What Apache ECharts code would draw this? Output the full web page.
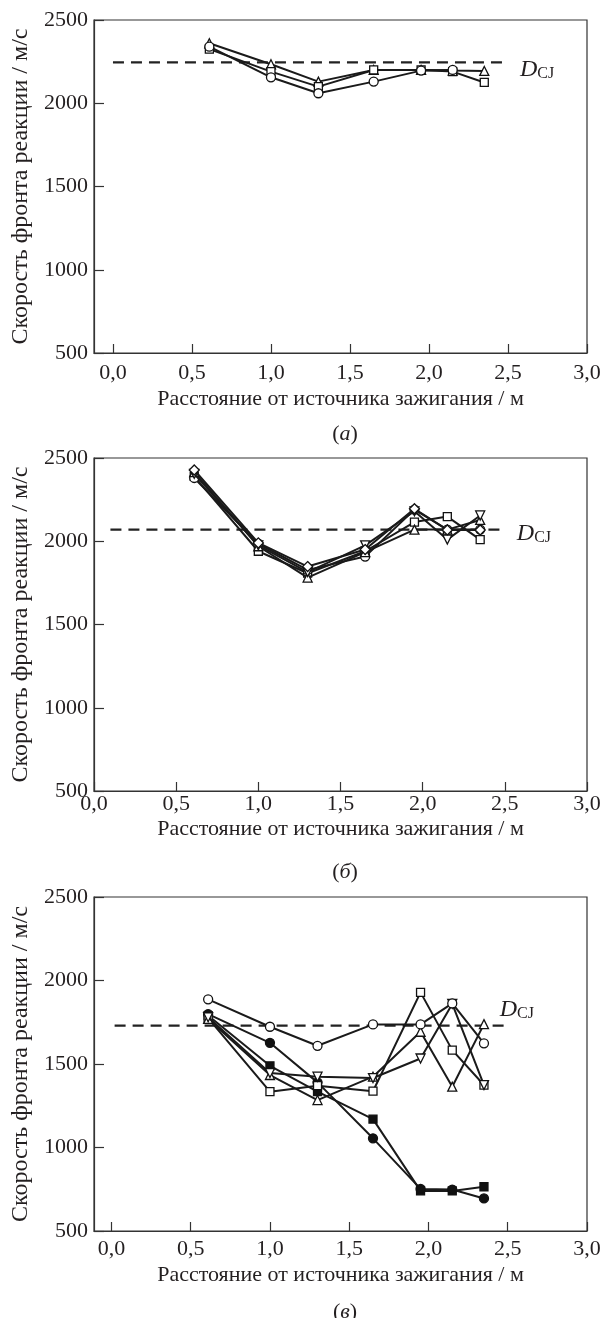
<!DOCTYPE html>
<html>
<head>
<meta charset="utf-8">
<script src="https://cdn.jsdelivr.net/npm/echarts@6/dist/echarts.min.js"></script>
<style>
  html, body { margin: 0; padding: 0; background: #fff; }
  #chart { width: 608px; height: 1318px; }
</style>
</head>
<body>
<div id="chart"></div>
<script>
// Sensor positions along the tube, m
const distance = [0.61, 1.0, 1.3, 1.65, 1.95, 2.15, 2.35];

// Panel (а): reaction front velocity, m/s
const aTriangle = [2360, 2234, 2130, 2200, 2200, 2196, 2194];
const aSquare   = [2325, 2190, 2100, 2200, 2200, 2190, 2125];
const aCircle   = [2340, 2156, 2060, 2130, 2196, 2200, null];
const aDcj = 2245;

// Panel (б)
const bSquare   = [2390, 1940, 1808, 1940, 2115, 2148, 2010];
const bCircle   = [2380, 1985, 1828, 1908, 2190, 2070, 2070];
const bTriangle = [2415, 1970, 1782, 1935, 2070, 2070, 2128];
const bTriDown  = [2405, 1975, 1815, 1975, 2180, 2010, 2155];
const bDiamond  = [2428, 1990, 1848, 1950, 2195, 2068, 2068];
const bDcj = 2070;

// Panel (в)
const cOpenCircle   = [1887, 1723, 1609, 1737, 1737, 1863, 1624];
const cFilledCircle = [1799, 1627, 1390, 1055, 752, 748, 695];
const cFilledSquare = [1790, 1489, 1334, 1170, 740, 740, 765];
const cOpenSquare   = [1775, 1334, 1370, 1337, 1929, 1583, 1374];
const cTriangle     = [1770, 1434, 1284, 1424, 1693, 1364, 1739];
const cTriDown      = [1780, 1446, 1424, 1416, 1533, 1860, 1374];
const cDcj = 1730;

const xTicks = [0, 0.5, 1, 1.5, 2, 2.5, 3];
const yTicks = [500, 1000, 1500, 2000, 2500];
const xTitle = 'Расстояние от источника зажигания / м';
const yTitle = 'Скорость фронта реакции / м/с';
const panelNames = ['а', 'б', 'в'];

const FONT = '"Liberation Serif", "DejaVu Serif", serif';
const INK = '#231f20';
const TRI_DOWN = 'path://M0,0 L10,0 L5,9 Z';

const panels = [
  { top: 20,  height: 333, xMin: -0.12, dcj: aDcj, dcjFrom: 0.0, labelMargin: 9, nameGap: 35, lblOff: [0, 7],
    series: [
      { data: aTriangle, symbol: 'triangle' },
      { data: aSquare, symbol: 'rect' },
      { data: aCircle, symbol: 'circle' }
    ] },
  { top: 458, height: 333, xMin: 0, dcj: bDcj, dcjFrom: 0.1, labelMargin: 2, nameGap: 27, lblOff: [0, 4],
    series: [
      { data: bSquare, symbol: 'rect' },
      { data: bCircle, symbol: 'circle' },
      { data: bTriangle, symbol: 'triangle' },
      { data: bTriDown, symbol: TRI_DOWN },
      { data: bDiamond, symbol: 'diamond' }
    ] },
  { top: 897, height: 334, xMin: -0.11, dcj: cDcj, dcjFrom: 0.02, labelMargin: 7, nameGap: 33, lblOff: [-20, -16],
    series: [
      { data: cFilledSquare, symbol: 'rect', filled: true },
      { data: cFilledCircle, symbol: 'circle', filled: true },
      { data: cOpenSquare, symbol: 'rect' },
      { data: cTriangle, symbol: 'triangle' },
      { data: cTriDown, symbol: TRI_DOWN },
      { data: cOpenCircle, symbol: 'circle' }
    ] }
];

const grid = [], xAxis = [], yAxis = [], series = [], title = [];

panels.forEach((p, i) => {
  grid.push({ left: 94, right: 21, top: p.top, height: p.height, show: true,
              borderColor: '#333', borderWidth: 1.2, backgroundColor: 'transparent' });
  xAxis.push({
    type: 'value', gridIndex: i, min: p.xMin, max: 3.0,
    axisLine: { show: true, onZero: false, lineStyle: { color: '#333', width: 1.2 } },
    axisTick: { show: true, inside: true, length: 9, customValues: xTicks,
                lineStyle: { color: '#333', width: 1.2 } },
    splitLine: { show: false },
    axisLabel: {
      margin: p.labelMargin, fontFamily: FONT, fontSize: 22, color: INK,
      customValues: xTicks,
      formatter: v => v.toFixed(1).replace('.', ',')
    },
    name: xTitle, nameLocation: 'middle', nameGap: p.nameGap,
    nameTextStyle: { fontFamily: FONT, fontSize: 22, color: INK }
  });
  yAxis.push({
    type: 'value', gridIndex: i, min: yTicks[0], max: yTicks[yTicks.length - 1], interval: 500,
    axisLine: { show: true, onZero: false, lineStyle: { color: '#333', width: 1.2 } },
    axisTick: { show: true, inside: true, length: 10, lineStyle: { color: '#333', width: 1.2 } },
    splitLine: { show: false },
    axisLabel: { margin: 6, fontFamily: FONT, fontSize: 22, color: INK, formatter: v => String(v) },
    name: yTitle, nameLocation: 'middle', nameRotate: 90, nameGap: 59,
    nameTextStyle: { fontFamily: FONT, fontSize: 24, color: INK }
  });

  // Chapman–Jouguet detonation velocity
  series.push({
    type: 'line', xAxisIndex: i, yAxisIndex: i, silent: true, animation: false,
    data: [[p.dcjFrom, p.dcj], [2.5, p.dcj]], symbol: 'none',
    lineStyle: { color: '#222', width: 2.2, type: [11, 7] },
    endLabel: {
      show: true, distance: 12, offset: p.lblOff,
      formatter: '{d|D}{s|CJ}',
      rich: {
        d: { fontFamily: FONT, fontStyle: 'italic', fontSize: 24, color: INK },
        s: { fontFamily: FONT, fontSize: 16, color: INK, verticalAlign: 'bottom', padding: [9, 0, 0, 0] }
      }
    },
    z: 1
  });

  p.series.forEach((s, k) => {
    series.push({
      type: 'line', xAxisIndex: i, yAxisIndex: i, animation: false,
      data: distance.map((x, j) => s.data[j] == null ? null : [x, s.data[j]]).filter(d => d),
      symbol: s.symbol, symbolSize: s.symbol === 'rect' ? 8 : (s.symbol === 'diamond' ? 10 : 9),
      showAllSymbol: true,
      itemStyle: { color: s.filled ? '#111' : '#fff', borderColor: '#111', borderWidth: 1.3 },
      lineStyle: { color: '#1a1a1a', width: 2 },
      z: 2 + k
    });
  });

  title.push({
    text: '{p|(}{i|' + panelNames[i] + '}{p|)}',
    left: 340, textAlign: 'center', top: p.top + p.height + 65,
    textStyle: {
      fontWeight: 'normal',
      rich: {
        p: { fontFamily: FONT, fontSize: 22, fontWeight: 'normal', color: INK },
        i: { fontFamily: FONT, fontStyle: 'italic', fontWeight: 'normal', fontSize: 22, color: INK }
      }
    }
  });
});

const chart = echarts.init(document.getElementById('chart'), null, { renderer: 'canvas' });
chart.setOption({ animation: false, backgroundColor: '#fff', grid, xAxis, yAxis, series, title });
</script>
</body>
</html>
